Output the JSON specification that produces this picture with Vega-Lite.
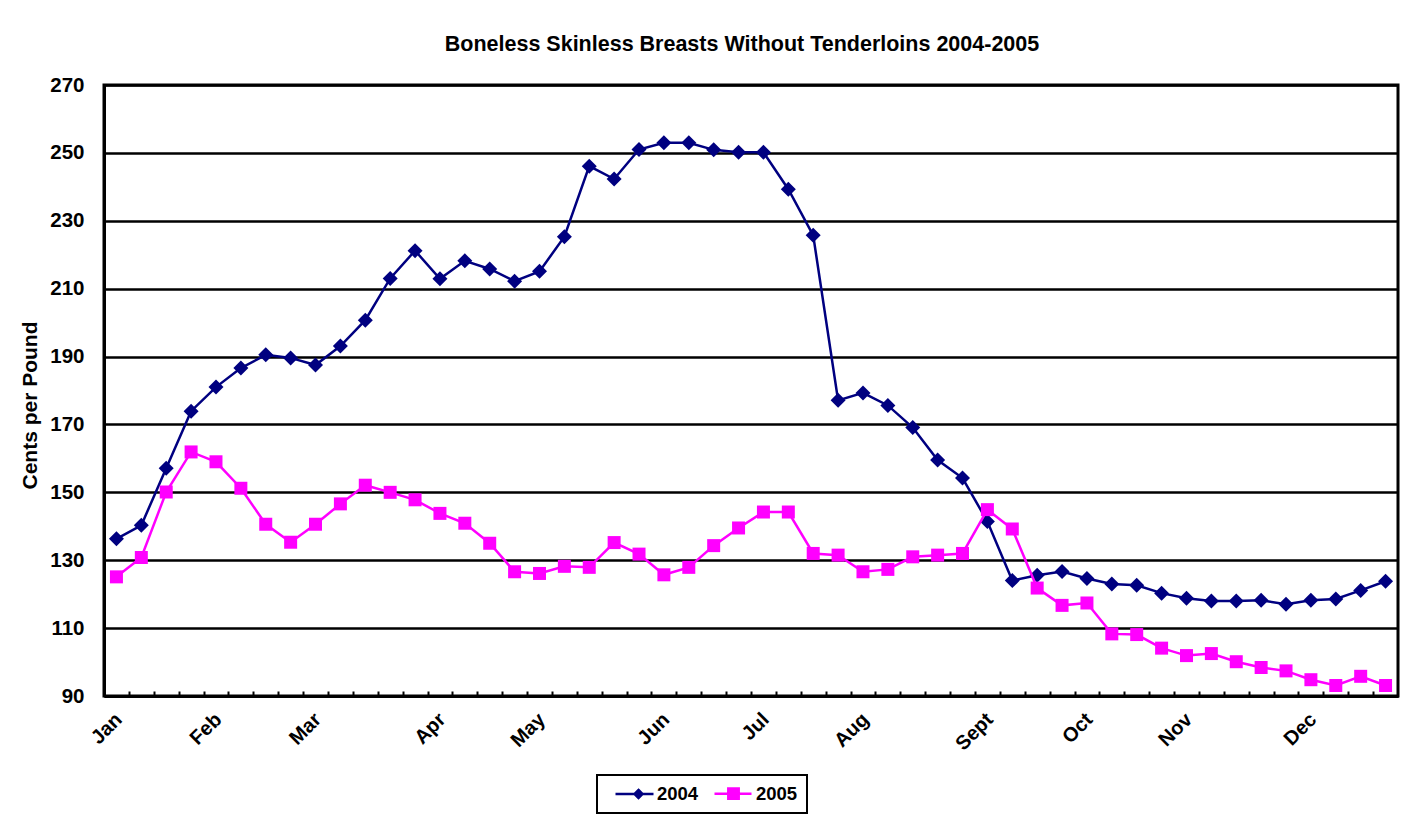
{
  "$schema": "https://vega.github.io/schema/vega-lite/v6.json",
  "width": 1294,
  "height": 611,
  "autosize": {"type": "none"},
  "padding": {"left": 104, "top": 85, "right": 27, "bottom": 122},
  "background": "white",
  "title": {
    "text": "Boneless Skinless Breasts Without Tenderloins 2004-2005",
    "font": "Liberation Sans", "fontSize": 21.5, "fontWeight": "bold", "color": "black",
    "anchor": "middle", "frame": "group", "offset": 20, "dx": -9
  },
  "config": {
    "view": {"stroke": "black", "strokeWidth": 3},
    "font": "Liberation Sans",
    "legend": {"strokeWidth": 2}
  },
  "data": {"values": [
    {"w":0,"s":"2004","v":136.3},{"w":1,"s":"2004","v":140.3},{"w":2,"s":"2004","v":157.1},{"w":3,"s":"2004","v":173.9},
    {"w":4,"s":"2004","v":181.0},{"w":5,"s":"2004","v":186.6},{"w":6,"s":"2004","v":190.5},{"w":7,"s":"2004","v":189.6},
    {"w":8,"s":"2004","v":187.5},{"w":9,"s":"2004","v":193.1},{"w":10,"s":"2004","v":200.7},{"w":11,"s":"2004","v":213.0},
    {"w":12,"s":"2004","v":221.2},{"w":13,"s":"2004","v":212.9},{"w":14,"s":"2004","v":218.2},{"w":15,"s":"2004","v":215.8},
    {"w":16,"s":"2004","v":212.2},{"w":17,"s":"2004","v":215.1},{"w":18,"s":"2004","v":225.3},{"w":19,"s":"2004","v":246.1},
    {"w":20,"s":"2004","v":242.3},{"w":21,"s":"2004","v":251.0},{"w":22,"s":"2004","v":253.0},{"w":23,"s":"2004","v":253.0},
    {"w":24,"s":"2004","v":250.9},{"w":25,"s":"2004","v":250.2},{"w":26,"s":"2004","v":250.2},{"w":27,"s":"2004","v":239.3},
    {"w":28,"s":"2004","v":225.7},{"w":29,"s":"2004","v":177.1},{"w":30,"s":"2004","v":179.3},{"w":31,"s":"2004","v":175.6},
    {"w":32,"s":"2004","v":169.1},{"w":33,"s":"2004","v":159.5},{"w":34,"s":"2004","v":154.2},{"w":35,"s":"2004","v":141.4},
    {"w":36,"s":"2004","v":124.0},{"w":37,"s":"2004","v":125.6},{"w":38,"s":"2004","v":126.7},{"w":39,"s":"2004","v":124.6},
    {"w":40,"s":"2004","v":123.0},{"w":41,"s":"2004","v":122.6},{"w":42,"s":"2004","v":120.3},{"w":43,"s":"2004","v":118.8},
    {"w":44,"s":"2004","v":118.0},{"w":45,"s":"2004","v":118.0},{"w":46,"s":"2004","v":118.2},{"w":47,"s":"2004","v":117.0},
    {"w":48,"s":"2004","v":118.2},{"w":49,"s":"2004","v":118.6},{"w":50,"s":"2004","v":121.1},{"w":51,"s":"2004","v":123.8},
    {"w":0,"s":"2005","v":125.1},{"w":1,"s":"2005","v":130.8},{"w":2,"s":"2005","v":150.1},{"w":3,"s":"2005","v":161.9},
    {"w":4,"s":"2005","v":159.0},{"w":5,"s":"2005","v":151.2},{"w":6,"s":"2005","v":140.6},{"w":7,"s":"2005","v":135.3},
    {"w":8,"s":"2005","v":140.6},{"w":9,"s":"2005","v":146.6},{"w":10,"s":"2005","v":152.1},{"w":11,"s":"2005","v":150.0},
    {"w":12,"s":"2005","v":147.8},{"w":13,"s":"2005","v":143.8},{"w":14,"s":"2005","v":140.9},{"w":15,"s":"2005","v":135.0},
    {"w":16,"s":"2005","v":126.6},{"w":17,"s":"2005","v":126.1},{"w":18,"s":"2005","v":128.2},{"w":19,"s":"2005","v":127.9},
    {"w":20,"s":"2005","v":135.2},{"w":21,"s":"2005","v":131.8},{"w":22,"s":"2005","v":125.7},{"w":23,"s":"2005","v":127.9},
    {"w":24,"s":"2005","v":134.3},{"w":25,"s":"2005","v":139.5},{"w":26,"s":"2005","v":144.2},{"w":27,"s":"2005","v":144.2},
    {"w":28,"s":"2005","v":132.0},{"w":29,"s":"2005","v":131.5},{"w":30,"s":"2005","v":126.6},{"w":31,"s":"2005","v":127.3},
    {"w":32,"s":"2005","v":131.0},{"w":33,"s":"2005","v":131.5},{"w":34,"s":"2005","v":132.0},{"w":35,"s":"2005","v":144.9},
    {"w":36,"s":"2005","v":139.2},{"w":37,"s":"2005","v":121.8},{"w":38,"s":"2005","v":116.7},{"w":39,"s":"2005","v":117.4},
    {"w":40,"s":"2005","v":108.3},{"w":41,"s":"2005","v":108.1},{"w":42,"s":"2005","v":104.1},{"w":43,"s":"2005","v":101.9},
    {"w":44,"s":"2005","v":102.5},{"w":45,"s":"2005","v":100.1},{"w":46,"s":"2005","v":98.4},{"w":47,"s":"2005","v":97.4},
    {"w":48,"s":"2005","v":94.8},{"w":49,"s":"2005","v":93.1},{"w":50,"s":"2005","v":95.8},{"w":51,"s":"2005","v":93.1}
  ]},
  "encoding": {
    "x": {
      "field": "w", "type": "quantitative",
      "scale": {"domain": [-0.5, 51.5], "nice": false, "zero": false},
      "axis": {
        "title": null, "grid": false,
        "values": [0,0.5,1.5,2.5,3.5,4,4.5,5.5,6.5,7.5,8,8.5,9.5,10.5,11.5,12.5,13,13.5,14.5,15.5,16.5,17,17.5,18.5,19.5,20.5,21.5,22,22.5,23.5,24.5,25.5,26,26.5,27.5,28.5,29.5,30,30.5,31.5,32.5,33.5,34.5,35,35.5,36.5,37.5,38.5,39,39.5,40.5,41.5,42.5,43,43.5,44.5,45.5,46.5,47.5,48,48.5,49.5,50.5],
        "domain": true, "domainColor": "black", "domainWidth": 3,
        "ticks": true, "tickColor": "black", "tickWidth": 2, "tickSize": -5,
        "tickOpacity": {"condition": {"test": "datum.value % 1 === 0", "value": 0}, "value": 1},
        "labelExpr": "indexof([0,4,8,13,17,22,26,30,35,39,43,48], datum.value) >= 0 ? ['Jan','Feb','Mar','Apr','May','Jun','Jul','Aug','Sept','Oct','Nov','Dec'][indexof([0,4,8,13,17,22,26,30,35,39,43,48], datum.value)] : ''",
        "labelAngle": -45, "labelAlign": "right", "labelBaseline": "top",
        "labelPadding": 18, "labelOffset": -5,
        "labelFont": "Liberation Sans", "labelFontSize": 20, "labelFontWeight": "bold", "labelColor": "black",
        "labelOverlap": false, "labelBound": false, "labelFlush": false
      }
    },
    "y": {
      "field": "v", "type": "quantitative",
      "scale": {"domain": [90, 270], "nice": false, "zero": false},
      "axis": {
        "values": [90,110,130,150,170,190,210,230,250,270],
        "title": "Cents per Pound",
        "titleFont": "Liberation Sans", "titleFontSize": 21, "titleFontWeight": "bold", "titleColor": "black",
        "titleAngle": -90, "titleX": -74, "titleY": 320, "titleAlign": "center", "titleBaseline": "middle",
        "grid": true, "gridColor": "black", "gridWidth": 2.5, "gridOpacity": 1,
        "domain": true, "domainColor": "black", "domainWidth": 3,
        "ticks": false, "labelPadding": 20,
        "labelFont": "Liberation Sans", "labelFontSize": 20.5, "labelFontWeight": "bold", "labelColor": "black"
      }
    }
  },
  "layer": [
    {
      "transform": [{"filter": "datum.s === '2004'"}],
      "mark": {"type": "line", "strokeWidth": 2.5, "color": "#000080"}
    },
    {
      "transform": [{"filter": "datum.s === '2004'"}],
      "mark": {"type": "point", "shape": "diamond", "filled": true, "size": 225, "opacity": 1, "color": "#000080"}
    },
    {
      "transform": [{"filter": "datum.s === '2005'"}],
      "mark": {"type": "line", "strokeWidth": 2.5, "color": "#FF00FF"}
    },
    {
      "transform": [{"filter": "datum.s === '2005'"}],
      "mark": {"type": "point", "shape": "square", "filled": true, "size": 169, "opacity": 1, "color": "#FF00FF"}
    },
    {
      "mark": {"type": "point", "filled": true, "opacity": 0, "size": 256},
      "encoding": {
        "color": {
          "field": "s", "type": "nominal",
          "scale": {"domain": ["2004", "2005"], "range": ["#000080", "#FF00FF"]},
          "legend": {
            "orient": "none", "legendX": 493, "legendY": 690, "direction": "horizontal", "title": null,
            "strokeColor": "black", "padding": 9, "fillColor": "white",
            "labelFont": "Liberation Sans", "labelFontSize": 18.5, "labelFontWeight": "bold", "labelColor": "black",
            "symbolSize": 256, "symbolStrokeWidth": 2.5, "symbolOpacity": 1,
            "labelOffset": 32, "columnPadding": 6
          }
        },
        "stroke": {
          "field": "s", "type": "nominal",
          "scale": {"domain": ["2004", "2005"], "range": ["#000080", "#FF00FF"]},
          "legend": {
            "orient": "none", "legendX": 493, "legendY": 690, "direction": "horizontal", "title": null,
            "strokeColor": "black", "padding": 9, "fillColor": "white",
            "labelFont": "Liberation Sans", "labelFontSize": 18.5, "labelFontWeight": "bold", "labelColor": "black",
            "symbolSize": 256, "symbolStrokeWidth": 2.5, "symbolOpacity": 1,
            "labelOffset": 32, "columnPadding": 6
          }
        },
        "shape": {
          "field": "s", "type": "nominal",
          "scale": {"domain": ["2004", "2005"], "range": ["M0,0L4.75,0M2.875,-0.5L3.375,0L2.875,0.5L2.375,0Z", "M0,0L4.625,0M1.725,-0.65L3.025,-0.65L3.025,0.65L1.725,0.65Z"]},
          "legend": {
            "orient": "none", "legendX": 493, "legendY": 690, "direction": "horizontal", "title": null,
            "strokeColor": "black", "padding": 9, "fillColor": "white",
            "labelFont": "Liberation Sans", "labelFontSize": 18.5, "labelFontWeight": "bold", "labelColor": "black",
            "symbolSize": 256, "symbolStrokeWidth": 2.5, "symbolOpacity": 1,
            "labelOffset": 32, "columnPadding": 6
          }
        }
      }
    }
  ]
}
